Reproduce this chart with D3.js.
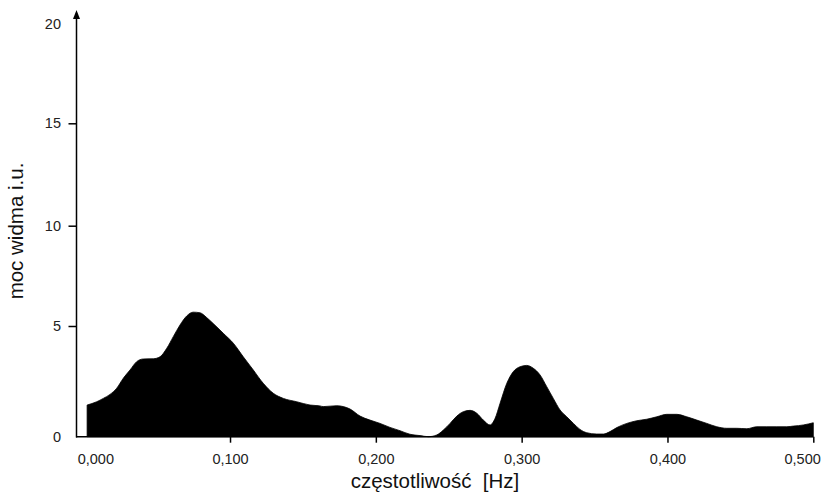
<!DOCTYPE html>
<html>
<head>
<meta charset="utf-8">
<script src="https://cdn.jsdelivr.net/npm/d3@7"></script>
<style>
  html, body { margin: 0; padding: 0; background: #fff; }
  svg { display: block; font-family: "Liberation Sans", Arial, sans-serif; }
</style>
</head>
<body>
<svg id="chart" width="822" height="498"></svg>
<script>
// ---- data ----
const frequency = [0.002,0.0086,0.0131,0.0177,0.0223,0.0268,0.0314,0.036,0.0405,0.0474,0.052,0.0566,0.0611,0.0657,0.0703,0.0748,0.0794,0.084,0.0885,0.0954,0.1023,0.1091,0.116,0.1228,0.1297,0.1366,0.1457,0.1549,0.1617,0.164,0.1732,0.1777,0.1823,0.1892,0.196,0.2029,0.2097,0.2166,0.2234,0.2303,0.236,0.2418,0.2463,0.2509,0.2555,0.26,0.2646,0.2692,0.2737,0.2783,0.2818,0.2852,0.2898,0.2943,0.2989,0.3035,0.308,0.3126,0.3172,0.3217,0.3263,0.3309,0.3355,0.34,0.3446,0.3515,0.356,0.3606,0.3652,0.3721,0.3789,0.3858,0.3927,0.3995,0.4064,0.4132,0.4201,0.427,0.4338,0.4407,0.4475,0.4544,0.4613,0.4681,0.475,0.4818,0.4864,0.4932,0.5];
const power = [1.43,1.58,1.73,1.91,2.19,2.64,3.01,3.39,3.51,3.52,3.61,3.99,4.52,5.05,5.5,5.69,5.66,5.42,5.12,4.67,4.22,3.61,3.01,2.41,1.96,1.73,1.58,1.43,1.39,1.36,1.4,1.36,1.25,0.93,0.75,0.6,0.42,0.27,0.11,0.05,0.0,0.08,0.3,0.6,0.93,1.13,1.19,1.06,0.75,0.53,0.83,1.51,2.41,2.94,3.16,3.22,3.09,2.79,2.26,1.73,1.21,0.9,0.6,0.33,0.18,0.12,0.12,0.23,0.41,0.6,0.72,0.79,0.9,1.01,1.01,0.9,0.75,0.6,0.45,0.38,0.38,0.36,0.45,0.45,0.45,0.45,0.48,0.53,0.63];
const xTicks = [0, 0.1, 0.2, 0.3, 0.4, 0.5];
const xTickLabels = ["0,000", "0,100", "0,200", "0,300", "0,400", "0,500"];
const yTicks = [0, 5, 10, 15, 20];
const yTickLabels = ["0", "5", "10", "15", "20"];
const xTitle = "częstotliwość  [Hz]";
const yTitle = "moc widma i.u.";

const svg = d3.select("#chart");

const x = d3.scaleLinear().domain([0, 0.5]).range([84.2, 813.3]);
// the reference's vertical axis is slightly uneven; follow its tick positions
const y = d3.scaleLinear().domain([0, 5, 10, 15, 20]).range([436.7, 326, 225.7, 123.3, 24]);

const series = frequency.map((f, i) => ({ f, p: power[i] }));

// filled spectrum
const area = d3.area()
  .x(d => x(d.f))
  .y0(y(0))
  .y1(d => y(d.p))
  .curve(d3.curveMonotoneX);

svg.append("path")
  .datum(series)
  .attr("d", area)
  .attr("fill", "#000")
  .attr("stroke", "#000")
  .attr("stroke-width", 0.8);

// x axis
const xAxis = d3.axisBottom(x)
  .tickValues(xTicks)
  .tickFormat((d, i) => xTickLabels[i])
  .tickSize(6)
  .tickPadding(11)
  .tickSizeOuter(0);

const gx = svg.append("g")
  .attr("transform", `translate(0,${y(0)})`)
  .call(xAxis);
gx.select(".domain").remove();
gx.selectAll(".tick line").attr("stroke", "#000").attr("stroke-width", 1.5);
gx.selectAll(".tick text")
  .attr("font-size", 14.5)
  .attr("fill", "#222");
gx.selectAll(".tick").filter(d => d === 0).select("line").remove();
gx.selectAll(".tick").filter(d => d === 0).select("text")
  .attr("text-anchor", "start").attr("x", -7);
gx.selectAll(".tick").filter(d => d === 0.5).select("text")
  .attr("text-anchor", "end").attr("x", 7);

svg.append("line")
  .attr("x1", 76).attr("x2", x(0.5))
  .attr("y1", y(0)).attr("y2", y(0))
  .attr("stroke", "#000").attr("stroke-width", 1.5);

// y axis
const yAxis = d3.axisLeft(y)
  .tickValues(yTicks)
  .tickFormat((d, i) => yTickLabels[i])
  .tickSize(8)
  .tickPadding(7)
  .tickSizeOuter(0);

const gy = svg.append("g")
  .attr("transform", "translate(76.5,0)")
  .call(yAxis);
gy.select(".domain").remove();
gy.selectAll(".tick line").attr("stroke", "#000").attr("stroke-width", 1.5);
gy.selectAll(".tick").filter(d => d === 0 || d === 20).select("line").remove();
gy.selectAll(".tick text")
  .attr("font-size", 14.5)
  .attr("fill", "#222")
  .attr("x", -15.5);

svg.append("line")
  .attr("x1", 76.5).attr("x2", 76.5)
  .attr("y1", y(0) + 0.75).attr("y2", 17)
  .attr("stroke", "#000").attr("stroke-width", 1.5);

// arrow head
svg.append("path")
  .attr("d", "M76.5,10 L73,19 L80,19 Z")
  .attr("fill", "#000");

// axis titles
svg.append("text")
  .attr("x", 435).attr("y", 488)
  .attr("text-anchor", "middle")
  .attr("font-size", 20.5)
  .attr("fill", "#111")
  .style("white-space", "pre")
  .text(xTitle);

svg.append("text")
  .attr("transform", "translate(23,231) rotate(-90)")
  .attr("text-anchor", "middle")
  .attr("font-size", 20.5)
  .attr("fill", "#111")
  .text(yTitle);
</script>
</body>
</html>
